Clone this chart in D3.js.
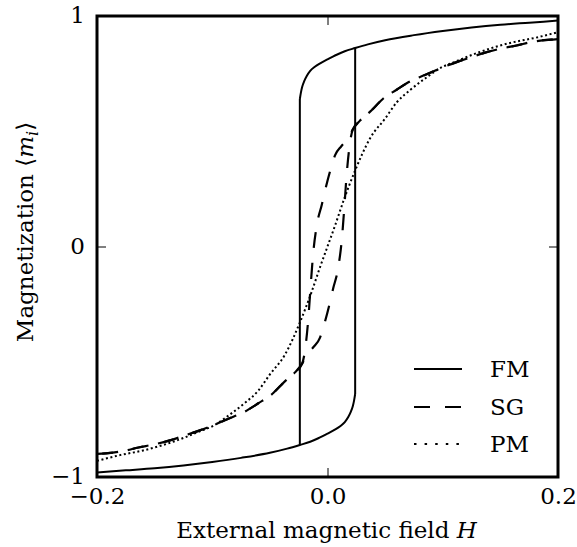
<!DOCTYPE html>
<html>
<head>
<meta charset="utf-8">
<script src="https://cdn.jsdelivr.net/npm/d3@7"></script>
<style>
  html, body { margin: 0; padding: 0; background: #fff; }
  svg { display: block; }
</style>
</head>
<body>
<svg id="chart" width="577" height="547"></svg>
<script>
// ---------------- data ----------------
const xTicks = [-0.2, 0.0, 0.2];
const yTicks = [-1, 0, 1];
const seriesNames = ["FM", "SG", "PM"];

// FM: upper (descending) branch, H from -0.024 to 0.2
const fmUpperH = [-0.024, -0.023, -0.022, -0.020, -0.018, -0.015, -0.011, -0.006, 0.0, 0.008, 0.015, 0.024, 0.035, 0.05, 0.075, 0.1, 0.125, 0.15, 0.175, 0.2];
const fmUpperM = [0.640, 0.670, 0.692, 0.720, 0.740, 0.762, 0.780, 0.796, 0.812, 0.832, 0.847, 0.861, 0.877, 0.895, 0.917, 0.935, 0.950, 0.962, 0.971, 0.980];
// FM: lower (ascending) branch, H from -0.2 to 0.024
const fmLowerH = [-0.2, -0.175, -0.15, -0.125, -0.1, -0.075, -0.05, -0.035, -0.024, -0.015, -0.008, 0.0, 0.006, 0.011, 0.015, 0.018, 0.020, 0.022, 0.023, 0.024];
const fmLowerM = [-0.980, -0.971, -0.962, -0.950, -0.935, -0.917, -0.895, -0.877, -0.861, -0.847, -0.832, -0.812, -0.796, -0.780, -0.762, -0.740, -0.720, -0.692, -0.670, -0.640];

// SG: descending branch
const sgDownH = [-0.2, -0.177, -0.164, -0.15, -0.136, -0.125, -0.112, -0.1, -0.085, -0.072, -0.06, -0.048, -0.037, -0.028, -0.022, -0.0195, -0.0166, -0.0146, -0.0126, -0.009, -0.005, -0.002, 0.0036, 0.0065, 0.012, 0.018, 0.022, 0.028, 0.037, 0.048, 0.06, 0.072, 0.085, 0.1, 0.112, 0.125, 0.136, 0.15, 0.164, 0.177, 0.2];
const sgDownM = [-0.900, -0.887, -0.872, -0.858, -0.840, -0.822, -0.800, -0.777, -0.745, -0.717, -0.680, -0.640, -0.585, -0.545, -0.508, -0.450, -0.310, -0.170, -0.040, 0.100, 0.180, 0.245, 0.350, 0.395, 0.435, 0.470, 0.508, 0.545, 0.585, 0.640, 0.680, 0.717, 0.745, 0.777, 0.800, 0.822, 0.840, 0.858, 0.872, 0.887, 0.900];
// SG: ascending branch
const sgUpH = [-0.2, -0.177, -0.164, -0.15, -0.136, -0.125, -0.112, -0.1, -0.085, -0.072, -0.06, -0.048, -0.037, -0.028, -0.022, -0.018, -0.012, -0.0065, -0.0036, 0.002, 0.005, 0.009, 0.0126, 0.0146, 0.0166, 0.0195, 0.022, 0.028, 0.037, 0.048, 0.06, 0.072, 0.085, 0.1, 0.112, 0.125, 0.136, 0.15, 0.164, 0.177, 0.2];
const sgUpM = [-0.900, -0.887, -0.872, -0.858, -0.840, -0.822, -0.800, -0.777, -0.745, -0.717, -0.680, -0.640, -0.585, -0.545, -0.508, -0.470, -0.435, -0.395, -0.350, -0.245, -0.180, -0.100, 0.040, 0.170, 0.310, 0.450, 0.508, 0.545, 0.585, 0.640, 0.680, 0.717, 0.745, 0.777, 0.800, 0.822, 0.840, 0.858, 0.872, 0.887, 0.900];

// PM: single-valued curve
const pmH = [-0.2, -0.18, -0.16, -0.13, -0.11, -0.1, -0.085, -0.072, -0.06, -0.05, -0.037, -0.03, -0.024, -0.014, -0.0065, 0.0, 0.0065, 0.014, 0.024, 0.03, 0.037, 0.05, 0.06, 0.072, 0.085, 0.1, 0.11, 0.13, 0.16, 0.18, 0.2];
const pmM = [-0.930, -0.905, -0.885, -0.840, -0.800, -0.780, -0.730, -0.680, -0.625, -0.555, -0.470, -0.400, -0.330, -0.200, -0.090, 0.000, 0.090, 0.200, 0.330, 0.400, 0.470, 0.555, 0.625, 0.680, 0.730, 0.780, 0.800, 0.840, 0.885, 0.905, 0.930];

// ---------------- layout ----------------
const plot = { left: 97, top: 16, right: 558, bottom: 477 };
const FONT = 23;
const FAMILY = "'DejaVu Serif', serif";

const svg = d3.select("#chart");
const x = d3.scaleLinear().domain([-0.2, 0.2]).range([plot.left, plot.right]);
const y = d3.scaleLinear().domain([-1, 1]).range([plot.bottom, plot.top]);

const zip = (a, b) => a.map((v, i) => [v, b[i]]);

svg.append("clipPath").attr("id", "clip")
  .append("rect")
  .attr("x", plot.left).attr("y", plot.top)
  .attr("width", plot.right - plot.left).attr("height", plot.bottom - plot.top);

const g = svg.append("g").attr("clip-path", "url(#clip)");

const smooth = d3.line().x(d => x(d[0])).y(d => y(d[1])).curve(d3.curveMonotoneX);
const straight = d3.line().x(d => x(d[0])).y(d => y(d[1]));

// FM
const fmUp = zip(fmUpperH, fmUpperM);
const fmLo = zip(fmLowerH, fmLowerM);
const fmStyle = sel => sel.attr("fill", "none").attr("stroke", "#000").attr("stroke-width", 2);
g.append("path").attr("d", smooth(fmUp)).call(fmStyle);
g.append("path").attr("d", smooth(fmLo)).call(fmStyle);
// vertical jumps joining the branches (ends of the data arrays)
g.append("path").attr("d", straight([fmUp[0], fmLo[8]])).call(fmStyle);
g.append("path").attr("d", straight([fmLo[fmLo.length - 1], fmUp[11]])).call(fmStyle);

// SG
const sgStyle = sel => sel.attr("fill", "none").attr("stroke", "#000").attr("stroke-width", 2.2)
  .attr("stroke-dasharray", "16,15");
g.append("path").attr("d", smooth(zip(sgDownH, sgDownM).reverse())).call(sgStyle);
g.append("path").attr("d", smooth(zip(sgUpH, sgUpM))).call(sgStyle);

// PM
g.append("path").attr("d", smooth(zip(pmH, pmM)))
  .attr("fill", "none").attr("stroke", "#000").attr("stroke-width", 2)
  .attr("stroke-dasharray", "2,2.6");

// ---------------- axes ----------------
const fmtX = d3.format(".1f");
const fmtY = d3.format("d");
const TICK = 9;

const axB = svg.append("g").attr("transform", `translate(0,${plot.bottom})`)
  .call(d3.axisBottom(x).tickValues(xTicks).tickFormat(fmtX).tickSizeInner(-TICK).tickSizeOuter(0).tickPadding(11));
const axT = svg.append("g").attr("transform", `translate(0,${plot.top})`)
  .call(d3.axisTop(x).tickValues(xTicks).tickFormat("").tickSizeInner(-TICK).tickSizeOuter(0));
const axL = svg.append("g").attr("transform", `translate(${plot.left},0)`)
  .call(d3.axisLeft(y).tickValues(yTicks).tickFormat(fmtY).tickSizeInner(-TICK).tickSizeOuter(0).tickPadding(12));
const axR = svg.append("g").attr("transform", `translate(${plot.right},0)`)
  .call(d3.axisRight(y).tickValues(yTicks).tickFormat("").tickSizeInner(-TICK).tickSizeOuter(0));

[axB, axT, axL, axR].forEach(a => {
  a.attr("font-family", FAMILY).attr("font-size", FONT);
  a.select(".domain").remove();
  a.selectAll(".tick line").attr("stroke", "#000").attr("stroke-width", 1);
  a.selectAll("text").attr("font-family", FAMILY).attr("font-size", FONT).attr("fill", "#000");
});
axL.selectAll(".tick text").attr("dy", "0.30em");

// frame
svg.append("rect")
  .attr("x", plot.left).attr("y", plot.top)
  .attr("width", plot.right - plot.left).attr("height", plot.bottom - plot.top)
  .attr("fill", "none").attr("stroke", "#000").attr("stroke-width", 3);

// axis labels
const xl = svg.append("text").attr("x", (plot.left + plot.right) / 2 - 1).attr("y", 538)
  .attr("text-anchor", "middle").attr("font-size", FONT).attr("font-family", FAMILY);
xl.append("tspan").text("External magnetic field ");
xl.append("tspan").attr("font-style", "italic").text("H");

const yl = svg.append("text").attr("transform", "translate(33,232) rotate(-90)")
  .attr("text-anchor", "middle").attr("font-size", FONT).attr("font-family", FAMILY);
yl.append("tspan").text("Magnetization \u27E8");
yl.append("tspan").attr("font-style", "italic").text("m");
yl.append("tspan").attr("font-style", "italic").attr("font-size", FONT * 0.7).attr("dy", 5).text("i");
yl.append("tspan").attr("dy", -5).text("\u27E9");

// legend
const legY = [369, 407, 444];
const legDash = [null, "16,15", "2.5,8.1"];
const leg = svg.append("g");
seriesNames.forEach((name, i) => {
  leg.append("line")
    .attr("x1", 414).attr("x2", 462).attr("y1", legY[i]).attr("y2", legY[i])
    .attr("stroke", "#000").attr("stroke-width", i === 1 ? 2.2 : 2)
    .attr("stroke-dasharray", legDash[i]);
  leg.append("text").attr("x", 490).attr("y", legY[i] + 8)
    .attr("font-size", FONT).attr("font-family", FAMILY).text(name);
});
</script>
</body>
</html>
